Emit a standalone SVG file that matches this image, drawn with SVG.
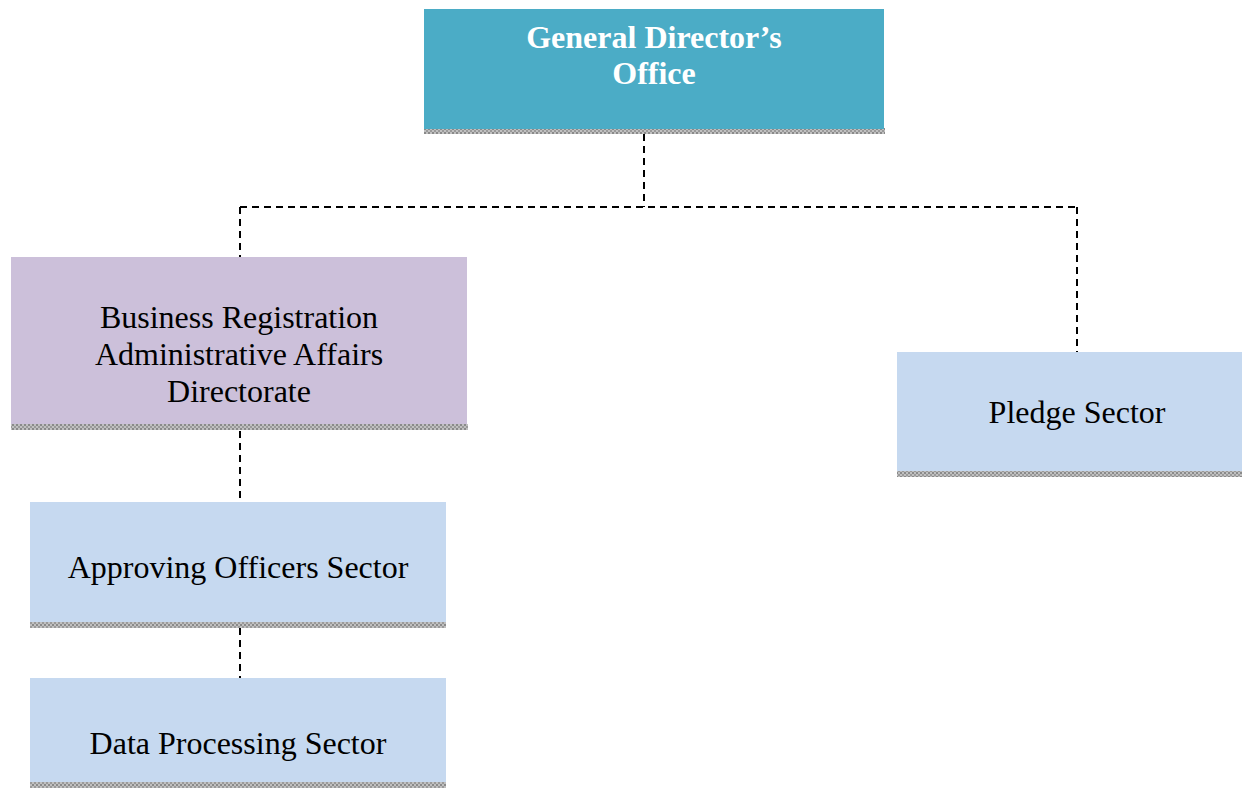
<svg xmlns="http://www.w3.org/2000/svg" width="1242" height="788" viewBox="0 0 1242 788">
<style>
.t{font-family:"Liberation Serif","Times New Roman",serif;font-size:32px;fill:#000;text-anchor:middle}
.b{font-weight:bold;fill:#fff;font-size:32px}
.c{stroke:#000;stroke-width:2;stroke-dasharray:7,5;fill:none}
.sh{fill:url(#pat)}
</style>
<defs>
<pattern id="pat" width="4" height="4" patternUnits="userSpaceOnUse">
<rect width="4" height="4" fill="#c0c0c0"/>
<rect width="2" height="2" fill="#8a8a8a"/>
<rect x="2" y="2" width="2" height="2" fill="#9a9a9a"/>
</pattern>
</defs>
<g id="connectors">
<path class="c" d="M644 134V207"/>
<path class="c" d="M240 207H1077"/>
<path class="c" d="M240 207V257"/>
<path class="c" d="M1077 207V352"/>
<path class="c" d="M240 431V502"/>
<path class="c" d="M240 628V678"/>
</g>
<g id="general-director">
<rect class="sh" x="424" y="128" width="461" height="6"/>
<rect x="424" y="9" width="460" height="120" fill="#4BACC6"/>
<text class="t b" x="654" y="48">General Director’s</text>
<text class="t b" x="654" y="84">Office</text>
</g>
<g id="business-registration">
<rect class="sh" x="11" y="424" width="457" height="6"/>
<rect x="11" y="257" width="456" height="167" fill="#CCC0DA"/>
<text class="t" x="239" y="328">Business Registration</text>
<text class="t" x="239" y="365">Administrative Affairs</text>
<text class="t" x="239" y="402">Directorate</text>
</g>
<g id="pledge-sector">
<rect class="sh" x="897" y="471" width="345" height="6"/>
<rect x="897" y="352" width="345" height="119" fill="#C6D9F0"/>
<text class="t" x="1077" y="423">Pledge Sector</text>
</g>
<g id="approving-officers">
<rect class="sh" x="30" y="622" width="416" height="6"/>
<rect x="30" y="502" width="416" height="120" fill="#C6D9F0"/>
<text class="t" x="238" y="578">Approving Officers Sector</text>
</g>
<g id="data-processing">
<rect class="sh" x="30" y="782" width="416" height="6"/>
<rect x="30" y="678" width="416" height="104" fill="#C6D9F0"/>
<text class="t" x="238" y="754">Data Processing Sector</text>
</g>
</svg>
